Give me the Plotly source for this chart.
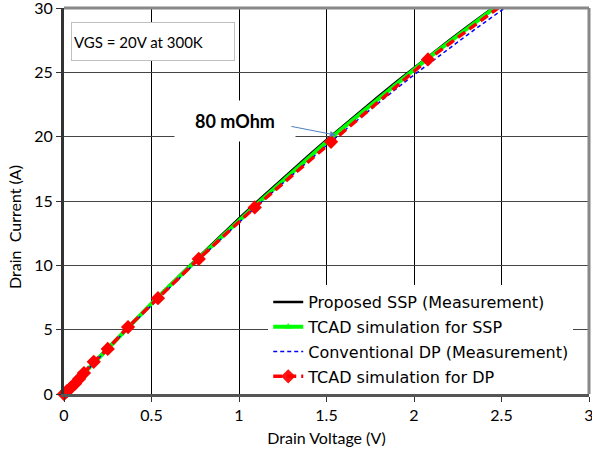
import plotly.graph_objects as go

# ---- data ----
ssp_meas_x = [0, 0.05, 0.1, 0.2, 0.3, 0.4, 0.5, 0.6, 0.7, 0.8, 0.9, 1.0, 1.1, 1.2, 1.3, 1.4,
              1.5, 1.6, 1.7, 1.8, 1.9, 2.0, 2.1, 2.2, 2.3, 2.4, 2.45]
ssp_meas_y = [0, 0.73, 1.45, 2.88, 4.29, 5.69, 7.06, 8.41, 9.75, 11.07, 12.36, 13.64, 14.90,
              16.14, 17.36, 18.56, 19.74, 20.90, 22.05, 23.17, 24.27, 25.36, 26.43, 27.47,
              28.50, 29.51, 30.0]

ssp_tcad_x = [0, 0.02, 0.04, 0.06, 0.09, 0.12, 0.17, 0.25, 0.36, 0.53, 0.77, 1.09, 1.53, 2.08, 2.46]
ssp_tcad_y = [0, 0.28, 0.57, 0.86, 1.29, 1.72, 2.43, 3.55, 5.10, 7.45, 10.55, 14.62, 19.95, 26.1, 30.0]

dp_meas_x = [0, 0.1, 0.2, 0.3, 0.4, 0.5, 0.6, 0.7, 0.8, 0.9, 1.0, 1.1, 1.2, 1.3, 1.4, 1.5,
             1.6, 1.7, 1.8, 1.9, 2.0, 2.1, 2.2, 2.3, 2.4, 2.5, 2.52]
dp_meas_y = [0, 1.42, 2.82, 4.20, 5.57, 6.91, 8.24, 9.54, 10.83, 12.10, 13.35, 14.58, 15.79,
             16.98, 18.16, 19.31, 20.45, 21.56, 22.66, 23.74, 24.80, 25.84, 26.86, 27.86,
             28.85, 29.81, 30.0]

dp_tcad_x = [0, 0.017, 0.04, 0.063, 0.086, 0.114, 0.17, 0.25, 0.366, 0.537, 0.77, 1.09, 1.526, 2.08, 2.48]
dp_tcad_y = [0, 0.23, 0.5, 0.8, 1.17, 1.63, 2.5, 3.5, 5.2, 7.45, 10.5, 14.5, 19.6, 26.0, 30.0]

names = ["Proposed SSP (Measurement)", "TCAD simulation for SSP",
         "Conventional DP (Measurement)", "TCAD simulation for DP"]

x_ticks = [0, 0.5, 1, 1.5, 2, 2.5, 3]
x_tick_text = ["0", "0.5", "1", "1.5", "2", "2.5", "3"]
y_ticks = [0, 5, 10, 15, 20, 25, 30]

# no marker shown on the final (curve-end) point of the simulation series
green_opac = [1] * (len(ssp_tcad_x) - 1) + [0]
red_opac = [1] * (len(dp_tcad_x) - 1) + [0]

fig = go.Figure()
fig.add_trace(go.Scatter(x=ssp_meas_x, y=ssp_meas_y, mode="lines", name=names[0],
                         legendgroup="a", line=dict(color="#000000", width=2.5)))
fig.add_trace(go.Scatter(x=ssp_tcad_x, y=ssp_tcad_y, mode="lines+markers", name=names[1],
                         legendgroup="b", line=dict(color="#00ff00", width=4),
                         marker=dict(symbol="triangle-up", size=7, color="#00ff00",
                                     opacity=green_opac),
                         cliponaxis=False))
fig.add_trace(go.Scatter(x=dp_meas_x, y=dp_meas_y, mode="lines", name=names[2],
                         legendgroup="c", line=dict(color="#0000ff", width=1.5, dash="4px,3px")))
fig.add_trace(go.Scatter(x=dp_tcad_x, y=dp_tcad_y, mode="lines+markers", name=names[3],
                         legendgroup="d", line=dict(color="#ff0000", width=3.5, dash="9px,5px"),
                         marker=dict(symbol="diamond", size=11, color="#ff0000",
                                     opacity=red_opac),
                         cliponaxis=False))

fig.update_layout(
    width=592, height=452,
    margin=dict(l=64, r=3, t=8, b=58),
    paper_bgcolor="white", plot_bgcolor="white",
    font=dict(family="Lato", color="#000000"),
    showlegend=True,
    legend=dict(x=0.389, y=0.0, xanchor="left", yanchor="bottom",
                bgcolor="white", borderwidth=0,
                font=dict(family="DejaVu Sans", size=16, color="#000000"),
                tracegroupgap=1, traceorder="grouped"),
    xaxis=dict(range=[0, 3], tickvals=x_ticks, ticktext=x_tick_text,
               showgrid=True, gridcolor="#000000", gridwidth=1,
               showline=True, linecolor="#555555", linewidth=3,
               ticks="outside", ticklen=5, tickcolor="#333333",
               tickfont=dict(family="Lato", size=16), ticklabeloverflow="allow",
               automargin=False,
               title=dict(text="Drain Voltage (V)", font=dict(family="Lato", size=16), standoff=10),
               zeroline=False),
    yaxis=dict(range=[0, 30], tickvals=y_ticks,
               showgrid=True, gridcolor="#444444", gridwidth=1,
               showline=True, linecolor="#333333", linewidth=3,
               ticks="outside", ticklen=5, tickcolor="#333333",
               tickfont=dict(family="Lato", size=16), ticklabeloverflow="allow",
               automargin=False, zeroline=False),
)

# y axis title (placed lower than centre, as in the original)
fig.add_annotation(x=-0.093, y=13.0, xref="paper", yref="y", text="Drain  Current (A)",
                   textangle=-90, showarrow=False, xanchor="center", yanchor="middle",
                   font=dict(family="Lato", size=16, color="#000000"))

# gray frame on top and right
fig.add_shape(type="line", xref="paper", yref="paper", x0=0, x1=1, y0=1, y1=1,
              line=dict(color="#888888", width=3))
fig.add_shape(type="line", xref="paper", yref="paper", x0=1, x1=1, y0=0, y1=1,
              line=dict(color="#888888", width=3))

fig.add_annotation(x=0.506, y=27.39, xref="x", yref="y", text="VGS = 20V at 300K",
                   showarrow=False, xanchor="center", yanchor="middle", align="left",
                   width=158, height=33, borderpad=2, borderwidth=1,
                   bordercolor="#c0c0c0", bgcolor="white",
                   font=dict(family="Lato", size=15, color="#000000"))
fig.add_annotation(x=0.977, y=21.21, xref="x", yref="y", text="<b>80 mOhm</b>",
                   showarrow=False, xanchor="center", yanchor="middle",
                   width=118, height=38, bgcolor="white",
                   font=dict(family="Lato", size=18, color="#000000"))
fig.add_annotation(x=1.554, y=20.12, xref="x", yref="y", ax=1.291, ay=20.82,
                   axref="x", ayref="y", text="", showarrow=True,
                   arrowhead=2, arrowsize=1.2, arrowwidth=1, arrowcolor="#4f81bd")

fig.write_html("out.html", config={"displayModeBar": False},
               post_script="document.body.style.margin='0';")
